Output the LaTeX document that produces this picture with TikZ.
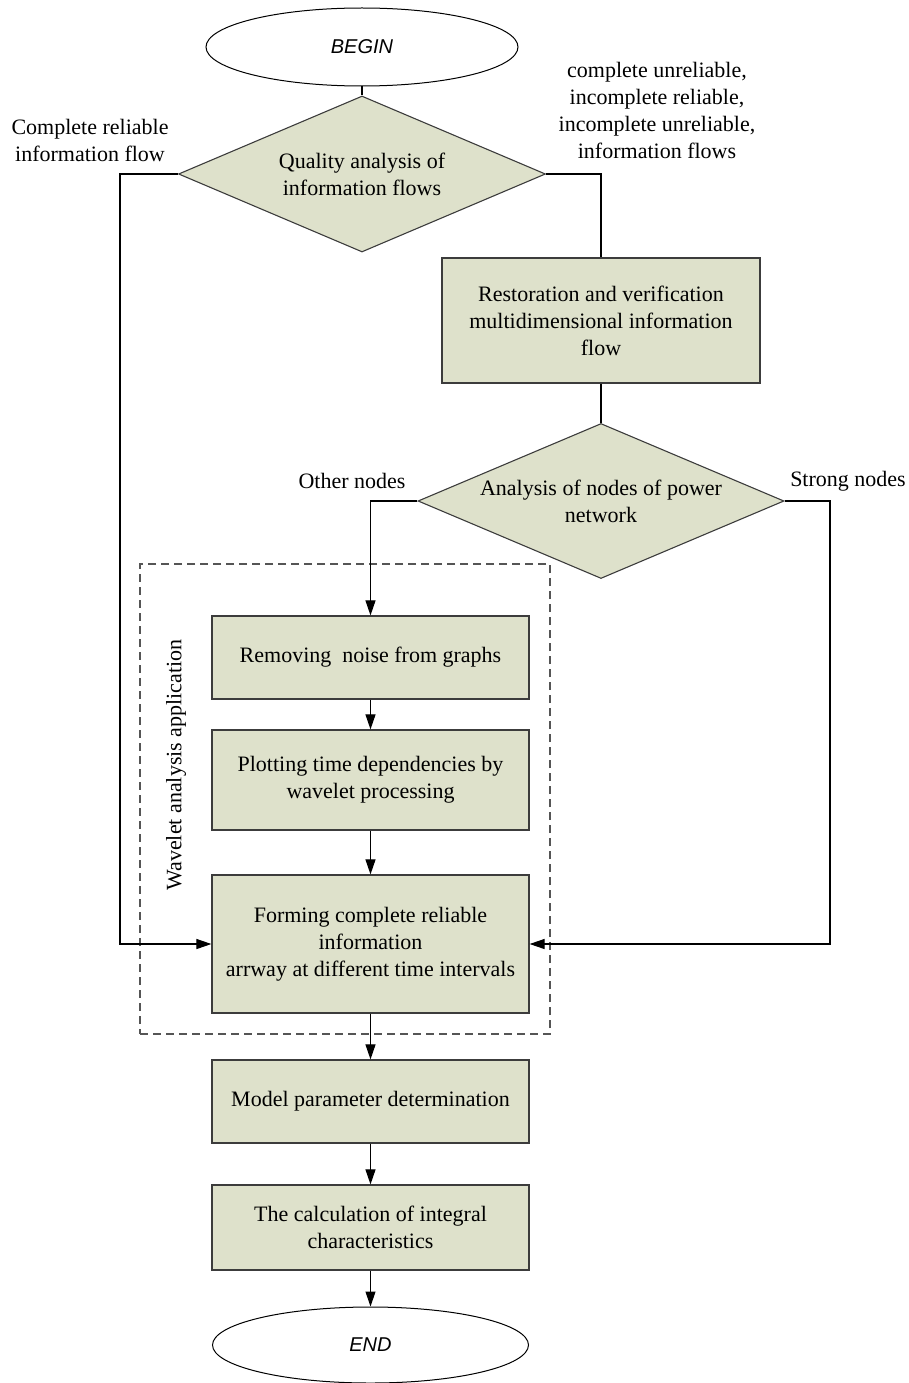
\documentclass[tikz,border=0pt]{standalone}
\usepackage{fontspec}
\setmainfont{Liberation Serif}
\newfontfamily\sansit{Liberation Sans}
\usetikzlibrary{shapes.geometric,arrows.meta}
\definecolor{boxfill}{HTML}{DEE1CB}
\definecolor{boxline}{HTML}{3C3C3C}
\definecolor{dashline}{HTML}{555555}
\begin{document}
\begin{tikzpicture}[x=1pt,y=-1pt,
  every node/.style={font=\fontsize{22}{27}\selectfont, align=center, inner sep=0pt},
  procbox/.style={draw=boxline, fill=boxfill, line width=1.2pt, rectangle},
  decision/.style={draw=boxline, fill=boxfill, line width=1.1pt, diamond},
  terminal/.style={draw=black, line width=1pt, ellipse, fill=white, font=\sansit\itshape\fontsize{20}{24}\selectfont},
  groupbox/.style={draw=dashline, line width=1.1pt, dash pattern=on 8pt off 5pt, rectangle},
  conn/.style={draw=black, line width=1.1pt},
  arr/.style={conn, -{Triangle[length=15pt,width=10pt]}}
]
\useasboundingbox (0,0) rectangle (908,1383);

% group
\node[groupbox, minimum width=410, minimum height=470] (wave) at (345,799) {};
\node[rotate=90] (wl) at (176,765) {Wavelet analysis application};

% main nodes
\node[terminal, minimum width=312, minimum height=78] (begin) at (362,47) {BEGIN};
\node[decision, aspect=2.353, minimum width=367, minimum height=156] (q) at (362,174) {Quality analysis of\\information flows};
\node[procbox, minimum width=318, minimum height=125] (rest) at (601,320.5) {Restoration and verification\\multidimensional information\\flow};
\node[decision, aspect=2.361, minimum width=366, minimum height=155] (an) at (601,501) {Analysis of nodes of power\\network};
\node[procbox, minimum width=317, minimum height=83] (rem) at (370.5,657.5) {Removing\ \ noise from graphs};
\node[procbox, minimum width=317, minimum height=100] (plot) at (370.5,780) {Plotting time dependencies by\\wavelet processing};
\node[procbox, minimum width=317, minimum height=138] (form) at (370.5,944) {Forming complete reliable\\information\\arrway at different time intervals};
\node[procbox, minimum width=317, minimum height=83] (model) at (370.5,1101.5) {Model parameter determination};
\node[procbox, minimum width=317, minimum height=85] (calc) at (370.5,1227.5) {The calculation of integral\\characteristics};
\node[terminal, minimum width=316, minimum height=76] (end) at (370.5,1345) {END};

% labels
\node (lcr) at (90,140) {Complete reliable\\information flow};
\node (lcu) at (657,110) {complete unreliable,\\incomplete reliable,\\incomplete unreliable,\\information flows};
\node (lon) at (352,481) {Other nodes};
\node (lsn) at (848,481) {Strong nodes};

% connectors
\coordinate (cr) at (120,944);
\coordinate (sn) at (830,944);
\draw[conn] (begin.south) -- (q.north);
\draw[conn] (q.east) -| (rest.north);
\draw[conn] (rest.south) -- (an.north);
\draw[arr] (an.west) -| (rem.north);
\draw[arr] (an.east) -| (sn) -- (form.east);
\draw[arr] (q.west) -| (cr) -- (form.west);
\draw[arr] (rem.south) -- (plot.north);
\draw[arr] (plot.south) -- (form.north);
\draw[arr] (form.south) -- (model.north);
\draw[arr] (model.south) -- (calc.north);
\draw[arr] (calc.south) -- (end.north);
\end{tikzpicture}
\end{document}
